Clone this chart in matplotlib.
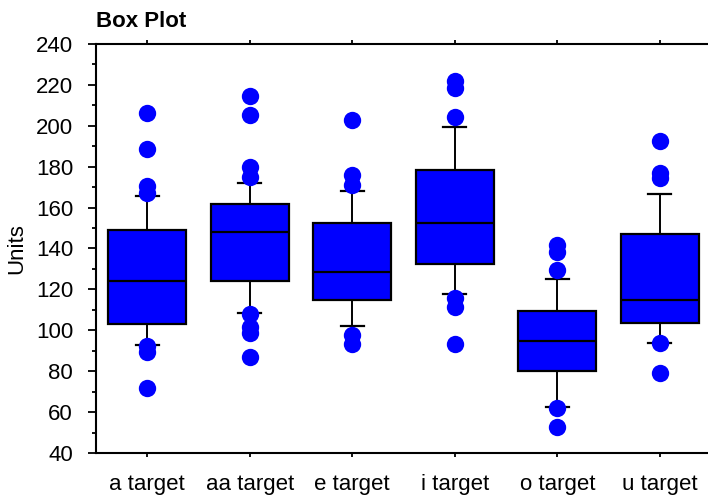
import matplotlib
matplotlib.use("Agg")
import matplotlib.pyplot as plt
from matplotlib.ticker import MultipleLocator

plt.rcParams['font.family'] = ['Liberation Sans', 'DejaVu Sans']

# data
categories = ['a target', 'aa target', 'e target', 'i target', 'o target', 'u target']
medians = [124.3, 148.1, 128.4, 152.3, 94.9, 114.8]
q1 = [103.2, 124.3, 114.8, 132.4, 80.3, 103.4]
q3 = [149.0, 161.6, 152.3, 178.4, 109.6, 147.1]
whisker_low = [92.8, 108.3, 102.3, 117.8, 62.5, 93.8]
whisker_high = [165.8, 172.0, 168.0, 199.3, 125.1, 166.8]
outliers = [
    [206.1, 188.5, 170.6, 167.0, 92.3, 89.6, 71.6],
    [214.6, 205.1, 180.0, 175.1, 108.0, 101.8, 98.8, 87.0],
    [202.8, 176.0, 171.0, 97.7, 93.3],
    [222.0, 218.3, 204.2, 115.6, 111.2, 93.3],
    [141.7, 138.4, 129.5, 61.8, 52.9],
    [192.6, 176.8, 174.3, 94.0, 79.0],
]

stats = []
for i, name in enumerate(categories):
    stats.append({
        'label': name,
        'med': medians[i],
        'q1': q1[i],
        'q3': q3[i],
        'whislo': whisker_low[i],
        'whishi': whisker_high[i],
        'fliers': outliers[i],
    })

fig = plt.figure(figsize=(7.08, 4.95), dpi=100)
ax = fig.add_axes([96 / 708, 42 / 495, 615 / 708, 409 / 495])

ax.bxp(stats, positions=range(len(categories)), widths=0.76, capwidths=0.22,
       patch_artist=True,
       boxprops=dict(facecolor='#0000FF', edgecolor='black', linewidth=1.6),
       medianprops=dict(color='black', linewidth=1.6),
       whiskerprops=dict(color='black', linewidth=1.4),
       capprops=dict(color='black', linewidth=1.6),
       flierprops=dict(marker='o', markerfacecolor='#0000FF', markeredgecolor='none',
                       markersize=12.5))

ax.set_xlim(-0.5, 5.5)
ax.set_ylim(40, 240)
ax.yaxis.set_major_locator(MultipleLocator(20))
ax.yaxis.set_minor_locator(MultipleLocator(10))

for s in ['left', 'bottom', 'top']:
    ax.spines[s].set_linewidth(1.5)
ax.spines['right'].set_visible(False)

ax.tick_params(axis='y', which='major', direction='out', length=6, width=1.3,
               labelsize=16, pad=10.5)
ax.tick_params(axis='y', which='minor', direction='out', length=3, width=1.3)
ax.tick_params(axis='x', which='major', direction='out', length=3, width=1.3,
               labelsize=16, pad=12, top=True)
ax.set_ylabel('Units', fontsize=16, labelpad=6)
ax.set_title('Box Plot', loc='left', fontweight='bold', fontsize=16, pad=12)

fig.savefig('out.png', dpi=100)
